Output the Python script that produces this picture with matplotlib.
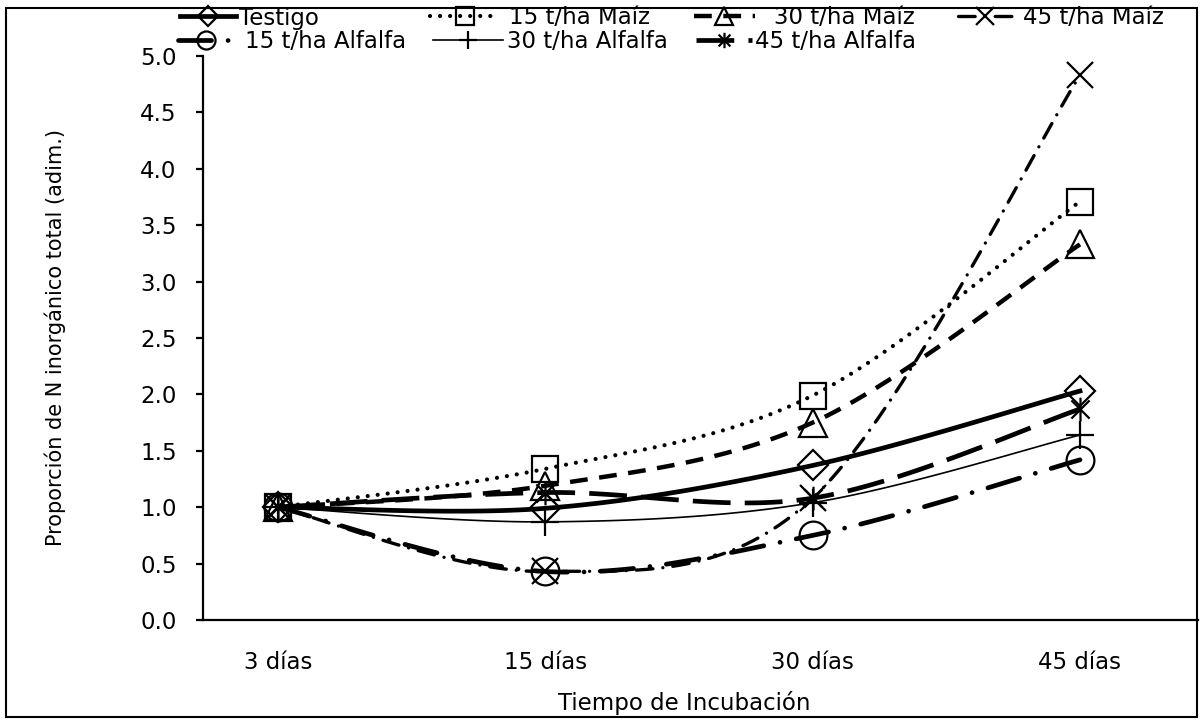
import numpy as np
import matplotlib
matplotlib.use('Agg')
import matplotlib.pyplot as plt
from matplotlib.path import Path
from matplotlib.patches import Rectangle

plt.rcParams['font.family'] = ['DejaVu Sans']

dias = ['3 días', '15 días', '30 días', '45 días']

testigo = [1.0, 0.99, 1.37, 2.03]
maiz_15 = [1.0, 1.34, 1.99, 3.71]
maiz_30 = [1.0, 1.19, 1.75, 3.33]
maiz_45 = [1.0, 0.43, 1.08, 4.83]
alfalfa_15 = [1.0, 0.43, 0.75, 1.42]
alfalfa_30 = [1.0, 0.87, 1.04, 1.64]
alfalfa_45 = [1.0, 1.13, 1.08, 1.87]

N_SEG = 40
FS = 16.5

# asterisk marker: an X crossed by a vertical bar
asterisk = Path(
    [(-1, -1), (1, 1), (-1, 1), (1, -1), (0, -1.3), (0, 1.3)],
    [Path.MOVETO, Path.LINETO, Path.MOVETO, Path.LINETO, Path.MOVETO, Path.LINETO],
)


def smooth(y, n=N_SEG):
    # cubic bezier through every point, tangents from neighbouring points
    pts = np.column_stack([np.arange(len(y)), y]).astype(float)
    p = np.vstack([pts[0], pts, pts[-1]])
    t = np.linspace(0, 1, n, endpoint=False)[:, None]
    out = []
    for i in range(len(pts) - 1):
        p0, p1, p2, p3 = p[i], p[i + 1], p[i + 2], p[i + 3]
        c1 = p1 + (p2 - p0) / 6
        c2 = p2 - (p3 - p1) / 6
        out.append((1 - t) ** 3 * p1 + 3 * (1 - t) ** 2 * t * c1
                   + 3 * (1 - t) * t ** 2 * c2 + t ** 3 * p2)
    out.append(pts[-1:])
    return np.vstack(out)


series = [
    ('Testigo', testigo, dict(ls='-', lw=3.4, marker='D', ms=15)),
    ('15 t/ha Maíz', maiz_15, dict(ls=(0, (0.01, 2.4)), lw=3.0, marker='s', ms=19,
                                   dash_capstyle='round')),
    ('30 t/ha Maíz', maiz_30, dict(ls=(0, (4.0, 2.6)), lw=3.2, marker='^', ms=20)),
    ('45 t/ha Maíz', maiz_45, dict(ls=(0, (5.0, 3.0, 0.01, 3.0)), lw=2.4, marker='x', ms=19,
                                   dash_capstyle='round')),
    ('15 t/ha Alfalfa', alfalfa_15, dict(ls=(0, (7.0, 3.5, 0.01, 3.5)), lw=3.4, marker='o', ms=20,
                                         dash_capstyle='round')),
    ('30 t/ha Alfalfa', alfalfa_30, dict(ls='-', lw=1.2, marker='+', ms=20)),
    ('45 t/ha Alfalfa', alfalfa_45, dict(ls=(0, (8.0, 3.0)), lw=3.4, marker=asterisk, ms=17)),
]

fig = plt.figure(figsize=(12.04, 7.24), dpi=100)
W, H = 1204, 724
ax = fig.add_axes([203 / W, 1 - 620 / H, (1198 - 203) / W, (620 - 56) / H])

marks = list(range(0, N_SEG * (len(dias) - 1) + 1, N_SEG))
lines = {}
for name, vals, style in series:
    xy = smooth(vals)
    ln, = ax.plot(xy[:, 0], xy[:, 1], color='black', markevery=marks,
                  mfc='none', mec='black', mew=1.6, label=name, **style)
    lines[name] = ln

ax.set_xlim(-75 / 267.3, 3 + 118 / 267.3)
ax.set_ylim(0, 5)
ax.set_yticks(np.arange(0, 5.01, 0.5))
ax.set_yticklabels([f'{v:.1f}' for v in np.arange(0, 5.01, 0.5)])
ax.set_xticks(range(len(dias)))
ax.set_xticklabels(dias)

for side in ['top', 'right']:
    ax.spines[side].set_visible(False)
for side in ['left', 'bottom']:
    ax.spines[side].set_linewidth(1.6)
ax.tick_params(axis='y', direction='out', length=5, width=1.6, labelsize=FS, pad=14)
ax.tick_params(axis='x', length=0, labelsize=FS, pad=22)

fig.text(55 / W, 1 - 337 / H, 'Proporción de N inorgánico total (adim.)',
         fontsize=15, rotation=90, ha='center', va='center')
fig.text(684 / W, 1 - 703 / H, 'Tiempo de Incubación', fontsize=FS,
         ha='center', va='center')

# one legend per entry: handle left, handle right, text start, row y (pixels)
legend_pos = {
    'Testigo': (180, 236, 239, 18),
    '15 t/ha Maíz': (430, 500, 509, 18),
    '30 t/ha Maíz': (694, 755, 774, 18),
    '45 t/ha Maíz': (958, 1012, 1023, 18),
    '15 t/ha Alfalfa': (178, 234, 245, 42),
    '30 t/ha Alfalfa': (433, 503, 507, 42),
    '45 t/ha Alfalfa': (696, 752, 755, 42),
}
em = FS * 100 / 72
for name, (x0, x1, tx, py) in legend_pos.items():
    fig.legend([lines[name]], [name], loc='center left',
               bbox_to_anchor=(x0 / W, 1 - py / H), frameon=False,
               fontsize=FS, handlelength=(x1 - x0) / em,
               handletextpad=(tx - x1) / em,
               borderpad=0, borderaxespad=0, markerscale=0.65)

fig.patches.append(Rectangle((6 / W, 1 - 717 / H), (1197 - 6) / W, (717 - 8) / H,
                             transform=fig.transFigure, fill=False,
                             lw=1.5, ec='black'))

fig.savefig('out.png', dpi=100)
